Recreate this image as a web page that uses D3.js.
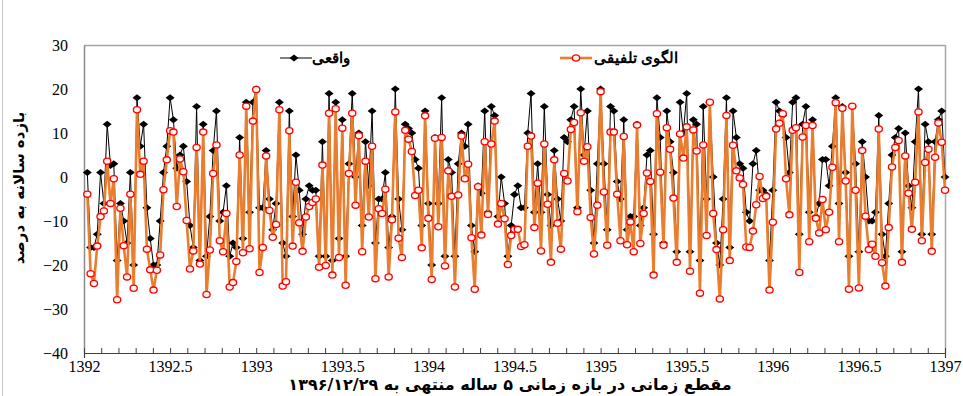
<!DOCTYPE html>
<html>
<head>
<meta charset="utf-8">
<script src="https://cdn.jsdelivr.net/npm/d3@7"></script>
<style>
  body { margin: 0; background: #fff; }
  svg { display: block; }
</style>
</head>
<body>
<svg id="chart" width="963" height="396"></svg>
<script>
// weekly points, 52 per year, from 1392 to 1397
const xStart = 1392;
const perYear = 52;

// black series (actual)
const actual = [
  1, -16, -16, -13, 1, -6, 12, 2.6, 3, -19, -6, -10, -15, 1, -20, 18, 7, 12, -7, -14,
  -20, -20, -10, 1, 7, 18, 13, 2, 5, 7, -1, -11, -16, 16, -19, 12, -18,
  -9, 6, 15, -10, -8, -2, -18, -15, -16, 9, -14, 17, -8, 17, 20, -7, -7, 6, -5, -12,
  -6, 17, -15, -18, 15, -9, 5, -3, -13, -5, -2, -3, -3, -18, 8, -18, 19, -19,
  17, -14, 13, -18, 3, 19, 0, 10, -11, 8, -2, 15, -15, -5, -5, 1, -16, -9, 20, -5,
  -12, 12, 11, 10, 4, 2, -11, 15, -6, -20, 9, -6, 18, -18, 4, 1, -18,
  3, 10, 7, 12, -11, -17, -2, -3.7, 15, -8, 16, 14, -9, 0, -6, -18, -11, -4, -2, -7,
  -7, 10, 19, -8, 3, -8, 16, -4, -11, 6, -5, -10, 9, 8, 13, 16, -7,
  20, 5, 15, -3, -15, 3, 20, 3, -12, 16, 15, -1, -5, 13, -12, -9, -9, 12, -11, -7,
  5, 6, -13, 18, 9, -15, 15, 8, 1, -17, 17, 10, 19, -17, 13, 12, -19,
  16, -5, 17, 0, -15, -20, -5, 18, -16, 15, 9, 3, 2, -8, -10, 3, 6, -3, -3, -4,
  -19, -3, 17, 15, 14, 9, 1, 17, 18, -13, 12, 16, -8, 13, -9, -6, 4,
  4, -2, 7, 18, -6, 16, 1, -18, 16, 3, -17, 8, 0, -10, -10, -8, 14, -13, -18, -6,
  5, 9, 11, -17, 10, -2, -7, 8, 20, -13, 12, 8, -13, 8, 13, 15, 0
];

// orange series (combined model)
const model = [
  -3.9, -22, -24.2, -15.7, -9, -7.7, 3.6, -6, -0.4, -27.9, -7.1, -15.6, -22.7, -3.9, -25.3, 15.3, 0.6, 3.6, -16.4, -21.1,
  -25.7, -21.2, -17.7, -2.9, 3.9, 10.5, 10.2, -6.7, 4.1, 1.2, -9.9, -20.9, -16.8, 6.7, -19.8, 10.2, -26.7,
  -16.6, 0.8, 7.3, -14.5, -17, -8.3, -25, -24, -19.2, 5, -17.2, 16.1, -16.3, 12.7, 19.9, -21.7, -16, 4.8, -7.6, -13.7,
  -10.8, 15.3, -24.8, -23.8, 10.5, -15.7, -1.2, -10.4, -16.9, -9.1, -6.7, -5.8, -5, -20.5, 2.7, -20.1, 14.5, -22.3,
  15.5, -18.3, 11.1, -24.6, 0.8, 14.5, -6.4, 9.4, -17, 3.6, -9.1, 7, -23.1, -7.2, -8.3, -2.8, -22.7, -9.7, 14.8, -13.9,
  -18.3, 10.6, 8.6, 5.8, -4.2, -3, -16.1, 13.9, -9.4, -23.3, 8.8, -11.3, 9, -20.2, 1.4, -4.4, -25,
  -4.1, 9.3, -0.4, 2.9, -13.8, -25.5, -2.2, -13.2, 8, -8.5, 7.5, 12.7, -10.7, -6, -9.5, -19.9, -13.3, -11.9, -11.9, -15.8,
  -15.4, 7, 9.3, -11.5, -1.4, -16.8, 7.5, -6.2, -19.4, 3.9, -10.5, -16.4, 0.8, -0.9, 10.8, 12.4, -7.9,
  14.6, 3.6, 6.9, -9.2, -17.5, -6.4, 19.4, -3.4, -15.5, 10.2, 10.2, -3.9, -14.5, 9.2, -15.4, -10.2, -17, 11.8, -15.1, -8.3,
  0.9, -1, -22.3, 14.4, 1.1, -15.5, 11.2, 6.3, -4.8, -19.4, 9.8, 4.3, 11.4, -21.4, 10.7, 5.9, -26.4,
  7.3, -13.3, 17, -8.3, -16.5, -27.7, -12, 14, -19, 7.2, 1.4, -0.2, -1.7, -15.9, -16, -12.3, -6.3, 0.1, -4.9, -4.4,
  -25.7, -10.3, 10.9, 12.2, 14.4, -0.4, -8.6, 10.6, 11.2, -21.7, 9.1, 11.7, -14.7, 11.7, -9.4, -12.7, -5.1,
  -12, -8, 2.2, 16.9, -14.7, 15.6, -0.9, -25.5, 16.1, -3, -25.2, 6, -8.9, -16.5, -15.3, -18, 10.9, -19.5, -24.8, -11.5,
  2.3, 6.7, 8.3, -19.4, 4.8, -3.7, -11.9, -1.2, 14.8, -14.5, 3.3, 6.3, -16.9, 4.5, 12.3, 7.9, -3
];

const yTicks = [-40, -30, -20, -10, 0, 10, 20, 30];
const xLabels = [1392, 1392.5, 1393, 1393.5, 1394, 1394.5, 1395, 1395.5, 1396, 1396.5, 1397];
const seriesNames = ['واقعی', 'الگوی تلفیقی'];
const yTitle = 'بازده سالانه به درصد';
const xTitle = 'مقطع زمانی در بازه زمانی ۵ ساله منتهی به ۱۳۹۶/۱۲/۲۹';

const serif = '"Liberation Serif", "DejaVu Serif", serif';
const svg = d3.select('#chart');
const plot = {left: 84, right: 945, top: 45, bottom: 353};

const x = d3.scaleLinear().domain([1392, 1397]).range([plot.left, plot.right]);
const y = d3.scaleLinear().domain([-40, 30]).range([plot.bottom, plot.top]);

const toPts = arr => arr.map((v, i) => ({t: xStart + (i + 1) / perYear, v: v}));
const actualPts = toPts(actual);
const modelPts = toPts(model);

// outer border on the left side
svg.append('line').attr('x1', 2.5).attr('x2', 2.5).attr('y1', 0).attr('y2', 396)
  .attr('stroke', '#c8c8c8').attr('stroke-width', 1);

// frame
svg.append('line').attr('x1', plot.left).attr('x2', plot.right).attr('y1', plot.top + 0.5).attr('y2', plot.top + 0.5)
  .attr('stroke', '#a6a6a6').attr('stroke-width', 1.5);
svg.append('line').attr('x1', plot.right + 0.5).attr('x2', plot.right + 0.5).attr('y1', plot.top).attr('y2', plot.bottom)
  .attr('stroke', '#a6a6a6').attr('stroke-width', 1.5);

// y axis
const yAxis = svg.append('g')
  .attr('transform', `translate(${plot.left},0)`)
  .call(d3.axisLeft(y).tickValues(yTicks).tickSize(0).tickPadding(16).tickFormat(d3.format('d')));
yAxis.select('.domain').attr('stroke', '#8c8c8c').attr('stroke-width', 1.5);
yAxis.selectAll('text').style('font-family', serif).style('font-size', '16px').style('fill', '#000');

// x axis, minor ticks every 0.1
const xTickVals = d3.range(0, 51).map(i => 1392 + i / 10);
const xAxis = svg.append('g')
  .attr('transform', `translate(0,${plot.bottom})`)
  .call(d3.axisBottom(x).tickValues(xTickVals).tickSize(5).tickPadding(3)
    .tickFormat(d => {
      const r = Math.round(d * 10) / 10;
      return xLabels.includes(r) ? String(r) : '';
    }));
xAxis.select('.domain').attr('stroke', '#404040').attr('stroke-width', 1.2);
xAxis.selectAll('.tick line').attr('stroke', '#404040').attr('y1', -5).attr('y2', 0);
xAxis.selectAll('text').style('font-family', serif).style('font-size', '16px').style('fill', '#000');

// actual series
const line = d3.line().x(d => x(d.t)).y(d => y(d.v));
svg.append('path').datum(actualPts)
  .attr('fill', 'none').attr('stroke', '#000').attr('stroke-width', 1).attr('d', line);
const diamond = 'M0,-3.5L4.5,0L0,3.5L-4.5,0Z';
svg.append('g').selectAll('path').data(actualPts).enter().append('path')
  .attr('d', diamond)
  .attr('transform', d => `translate(${x(d.t)},${y(d.v)})`)
  .attr('fill', '#000');

// model series
svg.append('path').datum(modelPts)
  .attr('fill', 'none').attr('stroke', '#ea7d2e').attr('stroke-width', 2.6).attr('d', line);
svg.append('g').selectAll('ellipse').data(modelPts).enter().append('ellipse')
  .attr('cx', d => x(d.t)).attr('cy', d => y(d.v))
  .attr('rx', 3.6).attr('ry', 3.1)
  .attr('fill', '#fff5ee').attr('stroke', '#ff0000').attr('stroke-width', 1.3);

// legend
const lg = svg.append('g');
lg.append('line').attr('x1', 280).attr('x2', 312).attr('y1', 58).attr('y2', 58).attr('stroke', '#000').attr('stroke-width', 1);
lg.append('path').attr('d', diamond).attr('transform', 'translate(294,58)').attr('fill', '#000');
lg.append('text').attr('x', 350).attr('y', 63).attr('text-anchor', 'end')
  .style('font-family', serif).style('font-size', '15px').style('font-weight', 'bold')
  .text(seriesNames[0]);
lg.append('line').attr('x1', 560).attr('x2', 592).attr('y1', 58).attr('y2', 58).attr('stroke', '#ea7d2e').attr('stroke-width', 2.6);
lg.append('ellipse').attr('cx', 576).attr('cy', 58).attr('rx', 3.6).attr('ry', 3.1)
  .attr('fill', '#fff5ee').attr('stroke', '#ff0000').attr('stroke-width', 1.3);
lg.append('text').attr('x', 678).attr('y', 63).attr('text-anchor', 'end')
  .style('font-family', serif).style('font-size', '15px').style('font-weight', 'bold')
  .text(seriesNames[1]);

// axis titles
svg.append('text')
  .attr('transform', 'translate(24,188) rotate(-90)')
  .attr('text-anchor', 'middle')
  .style('font-family', '"DejaVu Sans", sans-serif').style('font-size', '15px').style('font-weight', 'bold')
  .text(yTitle);
svg.append('text')
  .attr('x', 510).attr('y', 390)
  .attr('text-anchor', 'middle')
  .style('font-family', '"DejaVu Sans", sans-serif').style('font-size', '16px').style('font-weight', 'bold')
  .text(xTitle);
</script>
</body>
</html>
